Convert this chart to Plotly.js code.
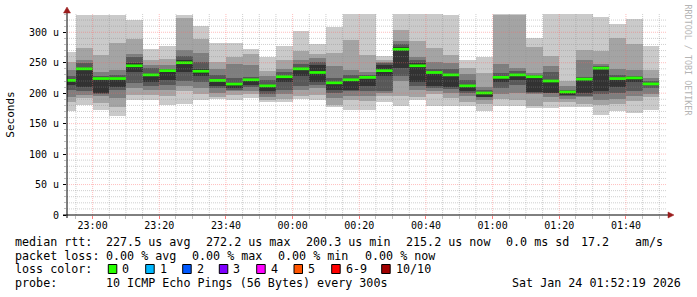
<!DOCTYPE html>
<html>
<head>
<meta charset="utf-8">
<script src="https://cdn.plot.ly/plotly-3.0.1.min.js"></script>
<style>
html,body{margin:0;padding:0;background:#fff;}
#chart{width:697px;height:297px;}
</style>
</head>
<body>
<div id="chart"></div>
<script>
// ---- data (interval end times, 5-minute steps) ----
const endTimes = [
 '2026-01-23 22:55:00','2026-01-23 23:00:00','2026-01-23 23:05:00','2026-01-23 23:10:00',
 '2026-01-23 23:15:00','2026-01-23 23:20:00','2026-01-23 23:25:00','2026-01-23 23:30:00',
 '2026-01-23 23:35:00','2026-01-23 23:40:00','2026-01-23 23:45:00','2026-01-23 23:50:00',
 '2026-01-23 23:55:00','2026-01-24 00:00:00','2026-01-24 00:05:00','2026-01-24 00:10:00',
 '2026-01-24 00:15:00','2026-01-24 00:20:00','2026-01-24 00:25:00','2026-01-24 00:30:00',
 '2026-01-24 00:35:00','2026-01-24 00:40:00','2026-01-24 00:45:00','2026-01-24 00:50:00',
 '2026-01-24 00:55:00','2026-01-24 01:00:00','2026-01-24 01:05:00','2026-01-24 01:10:00',
 '2026-01-24 01:15:00','2026-01-24 01:20:00','2026-01-24 01:25:00','2026-01-24 01:30:00',
 '2026-01-24 01:35:00','2026-01-24 01:40:00','2026-01-24 01:45:00','2026-01-24 01:50:00'
];
// sorted ping RTTs (microseconds), ping1 = fastest ... ping10 = slowest
const ping1  = [170,181,172,163,188,189,180,182,189,190,189,192,185,186,190,189,177,172,173,186,179,189,179,179,179,170,179,179,175,175,177,178,164,170,168,172];
const ping2  = [186,192,184,178,197,197,196,203,198,193,197,199,189,190,196,197,181,189,187,196,195,194,198,192,186,183,190,188,179,186,186,183,180,182,187,194];
const ping3  = [194,197,195,192,208,205,206,212,208,200,203,204,194,198,205,208,192,196,195,200,220,205,203,200,195,188,199,200,198,193,190,193,188,190,195,198];
const ping4  = [205,203,199,205,217,211,214,220,218,208,206,210,199,205,212,214,200,204,203,203,228,212,208,207,200,193,208,214,200,200,195,196,198,200,204,208];
const ping5  = [214,210,200,210,234,219,222,235,228,212,208,214,203,218,228,218,205,206,212,228,241,219,212,210,203,194,218,221,202,201,197,200,203,210,218,213];
const ping6  = [222,241,224,224,250,228,234,254,240,219,215,220,211,226,240,246,216,224,223,247,276,250,231,228,210,201,228,228,226,218,201,223,240,222,226,216];
const ping7  = [228,250,229,230,260,241,240,261,252,230,225,226,222,234,248,252,225,230,230,250,280,255,240,240,222,205,233,236,230,235,205,226,244,230,229,220];
const ping8  = [238,255,234,238,265,246,246,271,266,240,248,246,229,240,255,257,244,238,235,252,285,260,252,250,232,210,248,241,233,245,212,255,248,239,238,225];
const ping9  = [252,274,263,283,289,255,256,324,289,252,260,264,236,255,269,265,266,287,263,255,304,285,275,263,242,233,329,329,276,261,220,271,269,290,281,238];
const ping10 = [268,329,328,328,320,272,278,329,310,283,283,273,260,278,302,281,309,330,330,261,330,330,330,328,254,259,330,330,291,330,330,330,325,314,322,278];
const median = [221,240,224,224,245,230,237,250,236,221,215,222,212,227,240,234,217,222,226,237,272.2,245,234,230,212,200.3,226,230,227,220,202,223,241,224,225,215.2];

const yTickVals = [0,50,100,150,200,250,300];
const yTickText = ['0','50 u','100 u','150 u','200 u','250 u','300 u'];
const lossLabels = ['0','1','2','3','4','5','6-9','10/10'];
const lossColors = ['#26ff00','#00b8ff','#0059ff','#7e00ff','#ff00ff','#ff5500','#ff0000','#a10000'];
const smokeColors = ['#cacaca','#a4a4a4','#7e7e7e','#585858','#323232'];

// ---- layout geometry ----
const W = 697, H = 297;
const M = {l:67, r:30, t:14, b:82};
const PW = W - M.l - M.r, PH = H - M.t - M.b;
const px = x => (x - M.l) / PW;          // pixel -> paper x
const py = y => (H - M.b - y) / PH;      // pixel -> paper y

const toMs = s => Date.parse(s.replace(' ', 'T') + 'Z');
const STEP = 300000;
const xEnd = endTimes.map(toMs);
const xRange = [toMs('2026-01-23 22:52:19'), toMs('2026-01-24 01:52:19')];
const yRange = [0, 330];

const pings = [ping1,ping2,ping3,ping4,ping5,ping6,ping7,ping8,ping9,ping10];
const traces = [];
for (let k = 0; k < 5; k++) {
  const lo = pings[k], hi = pings[9 - k];
  traces.push({
    type:'bar', x:xEnd, base:lo, y:hi.map((v,i)=>v-lo[i]),
    width:STEP, offset:-STEP,
    marker:{color:smokeColors[k], line:{width:0}},
    hoverinfo:'skip', showlegend:false
  });
}
// median segments
const mx = [], my = [];
xEnd.forEach((e,i)=>{ mx.push(e-STEP, e, null); my.push(median[i], median[i], null); });
traces.push({type:'scatter', mode:'lines', x:mx, y:my, line:{color:lossColors[0], width:2.7},
  hoverinfo:'skip', showlegend:false, cliponaxis:true});

// ---- grid shapes (drawn above the smoke, like rrdtool) ----
const MAJ = 'rgba(255,100,100,0.42)', MIN = 'rgba(140,140,140,0.42)';
const shapes = [];
for (let v = 10; v < yRange[1]; v += 10) {
  const major = v % 50 === 0;
  shapes.push({type:'line', layer:'above', xref:'paper', yref:'y', x0:0, x1:1, y0:v, y1:v,
    line:{color: major ? MAJ : MIN, width:1, dash:'1px,1px'}});
}
for (let t = toMs('2026-01-23 22:55:00'); t < xRange[1]; t += STEP) {
  const major = ((t - toMs('2026-01-23 23:00:00')) % 1200000) === 0;
  shapes.push({type:'line', layer:'above', xref:'x', yref:'paper', x0:t, x1:t, y0:0, y1:1,
    line:{color: major ? MAJ : MIN, width:1, dash:'1px,1px'}});
}
// axis lines + arrows
shapes.push({type:'line', layer:'above', xref:'paper', yref:'paper', x0:px(63), x1:px(670), y0:0, y1:0, line:{color:'#000', width:1}});
shapes.push({type:'line', layer:'above', xref:'paper', yref:'paper', x0:0, x1:0, y0:py(218), y1:py(11), line:{color:'#000', width:1}});
shapes.push({type:'path', layer:'above', xref:'paper', yref:'paper',
  path:`M ${px(668)} ${py(212)} L ${px(674)} ${py(215)} L ${px(668)} ${py(218)} Z`,
  fillcolor:'#9b1c1c', line:{color:'#9b1c1c', width:0.5}});
shapes.push({type:'path', layer:'above', xref:'paper', yref:'paper',
  path:`M ${px(63.5)} ${py(13)} L ${px(67)} ${py(7)} L ${px(70.5)} ${py(13)} Z`,
  fillcolor:'#9b1c1c', line:{color:'#9b1c1c', width:0.5}});

// ---- legend text ----
const FONT = 'DejaVu Sans Mono, monospace';
const ann = [];
const txt = (x, y, s, opt={}) => ann.push(Object.assign({
  xref:'paper', yref:'paper', x:px(x), y:py(y), xanchor:'left', yanchor:'middle',
  text:s, showarrow:false, borderpad:0, borderwidth:0,
  font:{family:FONT, size:11.7, color:'#000'}}, opt));

const L1 = 241.5, L2 = 255.5, L3 = 269.3, L4 = 283.3;
txt(15, L1, 'median rtt:');
txt(106, L1, '227.5 us avg');
txt(206, L1, '272.2 us max');
txt(306, L1, '200.3 us min');
txt(406, L1, '215.2 us now');
txt(506, L1, '0.0 ms sd');
txt(581, L1, '17.2');
txt(635, L1, 'am/s');

txt(15, L2, 'packet loss:');
txt(106, L2, '0.00 % avg');
txt(192, L2, '0.00 % max');
txt(278, L2, '0.00 % min');
txt(365, L2, '0.00 % now');

txt(15, L3, 'loss color:');
const sqX = [108.3,145.7,182.7,219.3,256.7,294,331.7,381.7];
lossLabels.forEach((lab,i)=>{
  shapes.push({type:'rect', layer:'above', xref:'paper', yref:'paper',
    x0:px(sqX[i]), x1:px(sqX[i]+8.5), y0:py(273.5), y1:py(264.5),
    fillcolor:lossColors[i], line:{color:'#000', width:1}});
  txt(sqX[i]+14, L3, lab);
});

txt(15, L4, 'probe:');
txt(106, L4, '10 ICMP Echo Pings (56 Bytes) every 300s');
txt(512, L4, 'Sat Jan 24 01:52:19 2026');

// vertical watermark
ann.push({xref:'paper', yref:'paper', x:px(687.5), y:py(60), xanchor:'center', yanchor:'middle',
  text:'RRDTOOL / TOBI OETIKER', textangle:90, showarrow:false,
  font:{family:FONT, size:8.4, color:'#b4b4b4'}});

const layout = {
  width:W, height:H, margin:M,
  paper_bgcolor:'#ffffff', plot_bgcolor:'#ffffff',
  barmode:'overlay', bargap:0, showlegend:false,
  font:{family:FONT, size:10, color:'#000'},
  xaxis:{type:'date', range:xRange, showgrid:false, zeroline:false, showline:false,
    tick0:toMs('2026-01-23 23:00:00'), dtick:1200000, tickformat:'%H:%M',
    ticks:'outside', ticklen:3, tickcolor:'rgba(255,90,90,0.8)', tickwidth:1,
    minor:{dtick:STEP, ticks:'outside', ticklen:3, tickcolor:'rgba(150,150,150,0.6)', showgrid:false},
    ticklabelstandoff:-2,
    tickfont:{family:FONT, size:10, color:'#000'}, fixedrange:true},
  yaxis:{range:yRange, showgrid:false, zeroline:false, showline:false,
    tickvals:yTickVals, ticktext:yTickText,
    ticks:'outside', ticklen:3, tickcolor:'#000', tickwidth:1,
    minor:{dtick:10, ticks:'outside', ticklen:2, tickcolor:'rgba(150,150,150,0.6)', showgrid:false},
    ticklabelstandoff:2,
    tickfont:{family:FONT, size:10, color:'#000'},
    title:{text:'Seconds', standoff:12, font:{family:FONT, size:11, color:'#000'}},
    fixedrange:true},
  shapes:shapes, annotations:ann
};
Plotly.newPlot('chart', traces, layout, {displayModeBar:false, staticPlot:true});
</script>
</body>
</html>
